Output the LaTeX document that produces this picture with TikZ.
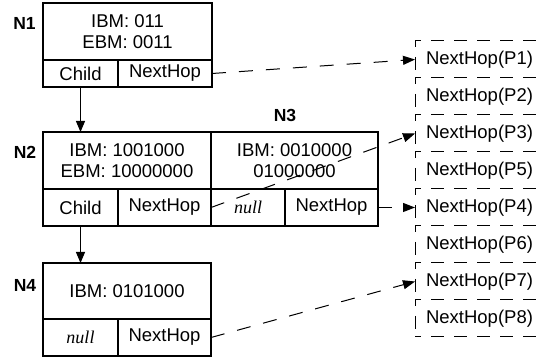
\documentclass[tikz,border=0pt]{standalone}
\usepackage{fontspec}
\setmainfont{Liberation Sans}
\newfontfamily\serifit{Liberation Serif}
\usetikzlibrary{arrows.meta}
\tikzset{
  cellbase/.style={draw, rectangle, inner sep=0pt, outer sep=0pt, anchor=north west, align=center,
    font=\fontsize{18.5}{21}\selectfont},
  thinbox/.style={cellbase, line width=1.4pt},
  thickbox/.style={cellbase, line width=1.8pt},
  nulltext/.style={font=\fontsize{18}{21}\selectfont\serifit\itshape},
  lbl/.style={font=\fontsize{17.5}{20}\selectfont\bfseries, inner sep=0pt},
  pcell/.style={rectangle, inner sep=0pt, outer sep=0pt, anchor=north west, minimum width=129pt,
    minimum height=37pt, font=\fontsize{18.5}{21}\selectfont},
  conn/.style={line width=1pt, dash pattern=on 14pt off 13pt, -{Triangle[length=12pt,width=9pt]}},
  downarr/.style={line width=1.1pt, -{Triangle[length=11pt,width=9pt]}},
  dbox/.style={line width=1pt, dash pattern=on 13pt off 10pt, dash phase=7pt}
}
\begin{document}
\begin{tikzpicture}[x=1pt,y=-1pt]
\useasboundingbox (0,0) rectangle (544,358);
% N1
\node[thinbox, minimum width=169pt, minimum height=57pt] (n1top) at (43,3) {IBM: 011\\EBM: 0011};
\node[thinbox, minimum width=75pt, minimum height=27pt] (c1) at (43,60) {Child};
\node[thinbox, minimum width=94pt, minimum height=27pt] (nh1) at (118,60) {NextHop};
\node[lbl] (L1) at (24.5,23.5) {N1};
% N2
\node[thickbox, minimum width=168pt, minimum height=57pt] (n2top) at (43,132) {IBM: 1001000\\EBM: 10000000};
\node[thickbox, minimum width=75pt, minimum height=37pt] (c2) at (43,189) {Child};
\node[thickbox, minimum width=93pt, minimum height=37pt] (nh2) at (118,189) {NextHop};
\node[lbl] (L2) at (25,152.5) {N2};
% N3
\node[thickbox, minimum width=167pt, minimum height=57pt] (n3top) at (211,132) {IBM: 0010000\\01000000};
\node[thickbox, minimum width=74pt, minimum height=37pt, nulltext] (null3) at (211,189) {null};
\node[thickbox, minimum width=93pt, minimum height=37pt] (nh3) at (285,189) {NextHop};
\node[lbl] (L3) at (285,115) {N3};
% N4
\node[thickbox, minimum width=168pt, minimum height=56pt] (n4top) at (43,263) {IBM: 0101000};
\node[thickbox, minimum width=75pt, minimum height=37pt, nulltext] (null4) at (43,319) {null};
\node[thickbox, minimum width=93pt, minimum height=37pt] (nh4) at (118,319) {NextHop};
\node[lbl] (L4) at (25,285) {N4};
% next hop table
\node[pcell] (P1) at (415,41) {NextHop(P1)};
\node[pcell] (P2) at (415,78) {NextHop(P2)};
\node[pcell] (P3) at (415,115) {NextHop(P3)};
\node[pcell] (P5) at (415,152) {NextHop(P5)};
\node[pcell] (P4) at (415,189) {NextHop(P4)};
\node[pcell] (P6) at (415,226) {NextHop(P6)};
\node[pcell] (P7) at (415,263) {NextHop(P7)};
\node[pcell] (P8) at (415,300) {NextHop(P8)};
\foreach \p in {P1,P2,P3,P5,P4,P6,P7,P8} {
  \draw[dbox] (\p.north west) -- (\p.south west);
  \draw[dbox] (\p.north west) -- (\p.north east);
}
\draw[dbox] (P8.south west) -- (P8.south east);
% connectors
\draw[downarr] (c1.south) -- (c1.south |- n2top.north);
\draw[downarr] (c2.south) -- (c2.south |- n4top.north);
\draw[conn] (nh1.east) -- (P1.west);
\draw[conn] (nh2.east) -- (P3.west);
\draw[conn] (nh3.east) -- (P4.west);
\draw[conn] (nh4.east) -- (P7.west);
\end{tikzpicture}
\end{document}
